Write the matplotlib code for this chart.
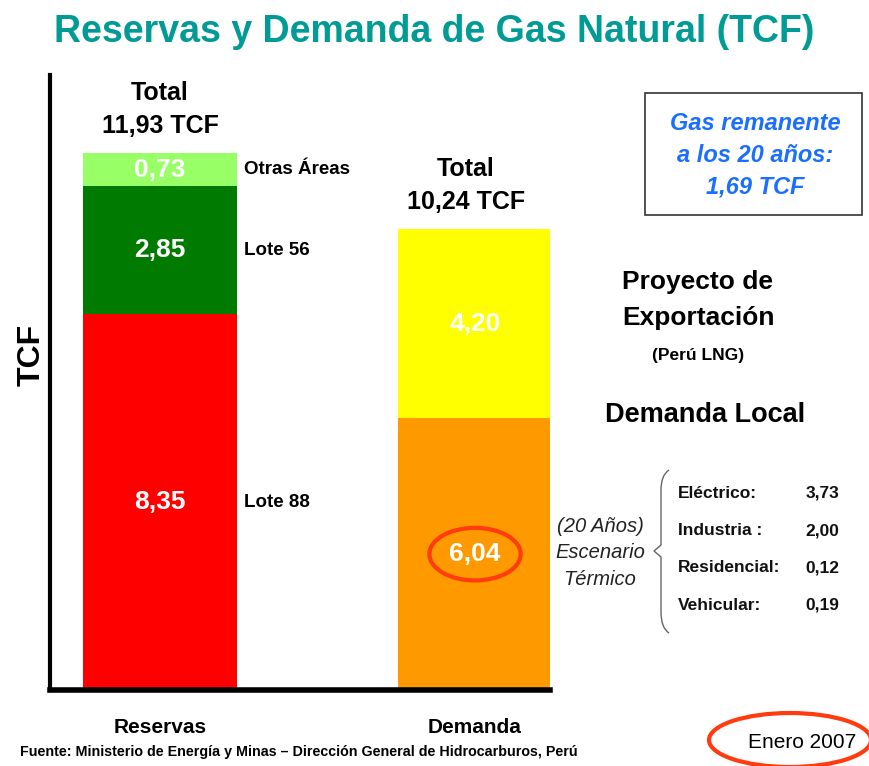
import matplotlib
matplotlib.use("Agg")
import matplotlib.pyplot as plt
from matplotlib.patches import Ellipse, Rectangle, PathPatch
from matplotlib.path import Path

# data (TCF)
bars = ["Reservas", "Demanda"]
reservas_parts = ["Lote 88", "Lote 56", "Otras Áreas"]
reservas_vals = [8.35, 2.85, 0.73]
reservas_cols = ["#ff0000", "#007a00", "#99ff66"]
demanda_parts = ["Demanda Local", "Proyecto de Exportación"]
demanda_vals = [6.04, 4.20]
demanda_cols = ["#ff9900", "#ffff00"]
totales = [11.93, 10.24]
sectores = ["Eléctrico:", "Industria :", "Residencial:", "Vehicular:"]
sector_vals = [3.73, 2.00, 0.12, 0.19]
remanente = 1.69

W, H = 869, 766
fig = plt.figure(figsize=(W / 100, H / 100), dpi=100)
fig.patch.set_facecolor("white")

SANS = ["Liberation Sans", "DejaVu Sans"]
plt.rcParams["font.family"] = SANS

def fx(x):
    return x / W

def fy(y):
    return 1 - y / H

def comma(v):
    return f"{v:.2f}".replace(".", ",")

# axes
ax = fig.add_axes([fx(50), fy(690), (550 - 50) / W, (690 - 75) / H])
ax.set_xlim(-0.349, 1.238)
ax.set_ylim(0, 13.67)
bw = 0.486

bottom = 0
for name, v, c in zip(reservas_parts, reservas_vals, reservas_cols):
    ax.bar(0, v, bw, bottom=bottom, color=c, linewidth=0)
    ax.text(0, bottom + v / 2, comma(v), color="white", fontsize=19, fontweight="bold",
            ha="center", va="center")
    ax.text(bw / 2 + 0.025, bottom + v / 2, name, color="black", fontsize=13.5, fontweight="bold",
            ha="left", va="center")
    bottom += v

bottom = 0
for name, v, c in zip(demanda_parts, demanda_vals, demanda_cols):
    ax.bar(1, v, bw, bottom=bottom, color=c, linewidth=0)
    box = None
    if name == "Demanda Local":
        box = dict(boxstyle="ellipse,pad=0.25", fc="none", ec="#ff3b0f", lw=3)
    ax.text(1, bottom + v / 2, comma(v), color="white", fontsize=19, fontweight="bold",
            ha="center", va="center", bbox=box)
    bottom += v

for i, t in enumerate(totales):
    top = sum(reservas_vals) if i == 0 else sum(demanda_vals)
    ax.text(i - (0.03 if i else 0), top + 0.35, f"Total\n{comma(t)} TCF", fontsize=18,
            fontweight="bold", ha="center", va="bottom", linespacing=1.45)

for s in ["top", "right"]:
    ax.spines[s].set_visible(False)
ax.spines["left"].set_linewidth(3)
ax.spines["bottom"].set_linewidth(4)
ax.set_yticks([])
ax.set_ylabel("TCF", fontsize=23, fontweight="bold")
ax.yaxis.set_label_coords(-0.006, 0.545)

# bar names below axis
ax.set_xticks([0, 1])
ax.set_xticklabels(bars, fontsize=15, fontweight="bold")
ax.tick_params(axis="x", length=0, pad=20)

# title
fig.text(0.5, fy(32), "Reservas y Demanda de Gas Natural (TCF)", color="#009b95",
         fontsize=27, fontweight="bold", ha="center", va="center")

# remaining gas box
fig.add_artist(Rectangle((fx(645), fy(215)), fx(862 - 645), (215 - 93) / H,
                         transform=fig.transFigure, fill=False, edgecolor="#333333", linewidth=1.2))
fig.text(fx(755), fy(155), f"Gas remanente\na los 20 años:\n{comma(remanente)} TCF",
         color="#1a6fff", fontsize=17, fontweight="bold", style="italic", ha="center",
         va="center", linespacing=1.5)

fig.text(fx(698), fy(300), "Proyecto de\nExportación", fontsize=19, fontweight="bold",
         ha="center", va="center", linespacing=1.65)
fig.text(fx(698), fy(355), "(Perú LNG)", fontsize=12.5, fontweight="bold",
         ha="center", va="center")
fig.text(fx(705), fy(415), "Demanda Local", fontsize=19.5, fontweight="bold",
         ha="center", va="center")

fig.text(fx(600), fy(553), "(20 Años)\nEscenario\nTérmico", fontsize=14.5, style="italic",
         ha="center", va="center", linespacing=1.5, color="#222222")

# brace
bx = [669, 661, 661, 661, 654, 661, 661, 661, 669]
by = [470, 475, 490, 545, 551, 557, 612, 628, 633]
verts = [(fx(a), fy(b)) for a, b in zip(bx, by)]
codes = [Path.MOVETO, Path.CURVE3, Path.CURVE3, Path.LINETO, Path.LINETO,
         Path.LINETO, Path.LINETO, Path.CURVE3, Path.CURVE3]
fig.add_artist(PathPatch(Path(verts, codes), transform=fig.transFigure, fill=False,
                         edgecolor="#666666", linewidth=1))

for i, (s, v) in enumerate(zip(sectores, sector_vals)):
    y = 493 + i * 37.5
    fig.text(fx(678), fy(y), s, fontsize=12.5, fontweight="bold", ha="left", va="center",
             color="#111111")
    fig.text(fx(839), fy(y), comma(v), fontsize=12.5, fontweight="bold", ha="right", va="center",
             color="#111111")

fig.text(fx(20), fy(752), "Fuente: Ministerio de Energía y Minas – Dirección General de Hidrocarburos, Perú",
         fontsize=10.3, fontweight="bold", ha="left", va="center")

fig.text(fx(802), fy(742), "Enero 2007", fontsize=15, ha="center", va="center")
fig.add_artist(Ellipse((fx(790), fy(740)), fx(162), 54 / H, transform=fig.transFigure,
                       fill=False, edgecolor="#ff3b0f", linewidth=3))

fig.savefig("out.png", dpi=100)
